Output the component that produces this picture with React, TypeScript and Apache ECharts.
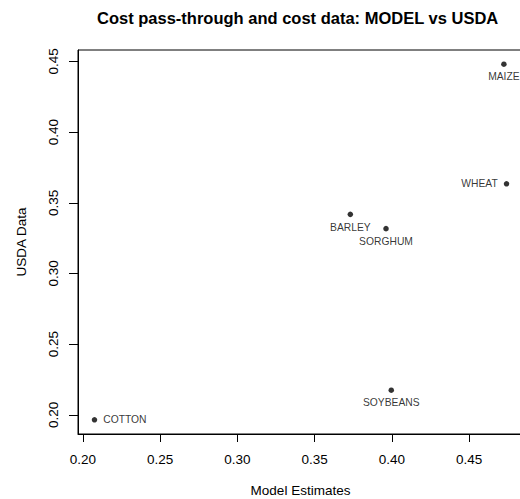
import React, { useEffect, useRef } from "react";
import * as echarts from "echarts";

const names = ["MAIZE", "WHEAT", "BARLEY", "SORGHUM", "SOYBEANS", "COTTON"];
const modelEstimates = [0.4725, 0.4742, 0.3731, 0.3962, 0.3996, 0.2075];
const usdaData = [0.448, 0.3634, 0.3418, 0.3317, 0.2174, 0.1965];
const xTicks = [0.2, 0.25, 0.3, 0.35, 0.4, 0.45];
const yTicks = [0.2, 0.25, 0.3, 0.35, 0.4, 0.45];

const labelPos: Record<string, string> = {
  MAIZE: "bottom",
  WHEAT: "left",
  BARLEY: "bottom",
  SORGHUM: "bottom",
  SOYBEANS: "bottom",
  COTTON: "right",
};

const FONT = "'Liberation Sans', Arial, sans-serif";

export default function App() {
  const ref = useRef<HTMLDivElement>(null);
  useEffect(() => {
    if (!ref.current) return;
    const chart = echarts.init(ref.current, undefined, { renderer: "svg" });
    const xr = [Math.min(...modelEstimates), Math.max(...modelEstimates)];
    const yr = [Math.min(...usdaData), Math.max(...usdaData)];
    const xPad = (xr[1] - xr[0]) * 0.04;
    const yPad = (yr[1] - yr[0]) * 0.04;
    const data = names.map((n, i) => ({
      name: n,
      value: [modelEstimates[i], usdaData[i]],
      label: {
        show: true,
        formatter: n,
        position: labelPos[n],
        distance: labelPos[n] === "bottom" ? 5 : 6,
        fontSize: 10.3,
        color: "#000",
        fontFamily: FONT,
      },
    }));
    chart.setOption({
      animation: false,
      backgroundColor: "#fff",
      title: {
        text: "Cost pass-through and cost data: MODEL vs USDA",
        left: 92,
        top: 4,
        textStyle: { fontSize: 16.5, fontWeight: "bold", color: "#000", fontFamily: FONT },
      },
      grid: {
        left: 78,
        top: 50,
        width: 445,
        height: 384,
        show: true,
        borderColor: "#000",
        borderWidth: 1,
        backgroundColor: "transparent",
        containLabel: false,
        outerBoundsMode: "none",
      },
      xAxis: {
        type: "value",
        min: xr[0] - xPad,
        max: xr[1] + xPad,
        name: "Model Estimates",
        nameLocation: "middle",
        nameGap: 49,
        nameTextStyle: { fontSize: 13.5, color: "#000", fontFamily: FONT },
        axisLine: { show: true, lineStyle: { color: "#000" } },
        axisTick: { show: true, length: 8, customValues: xTicks, lineStyle: { color: "#000" } },
        axisLabel: {
          customValues: xTicks,
          formatter: (v: number) => v.toFixed(2),
          fontSize: 13.5,
          color: "#000",
          margin: 18,
          fontFamily: FONT,
        },
        splitLine: { show: false },
      },
      yAxis: {
        type: "value",
        min: yr[0] - yPad,
        max: yr[1] + yPad,
        name: "USDA Data",
        nameLocation: "middle",
        nameGap: 50,
        nameRotate: 90,
        nameTextStyle: { fontSize: 13.5, color: "#000", fontFamily: FONT },
        axisLine: { show: true, lineStyle: { color: "#000" } },
        axisTick: { show: true, length: 9, customValues: yTicks, lineStyle: { color: "#000" } },
        axisLabel: {
          customValues: yTicks,
          formatter: (v: number) => v.toFixed(2),
          fontSize: 13.5,
          color: "#000",
          margin: 18,
          rotate: 90,
          fontFamily: FONT,
        },
        splitLine: { show: false },
      },
      series: [
        {
          type: "scatter",
          symbol: "circle",
          symbolSize: 5.5,
          itemStyle: { color: "#000" },
          data,
        },
      ],
    });
    return () => chart.dispose();
  }, []);
  return (
    <div
      ref={ref}
      style={{ position: "fixed", left: 0, top: 0, width: 520, height: 499, background: "#fff" }}
    />
  );
}
